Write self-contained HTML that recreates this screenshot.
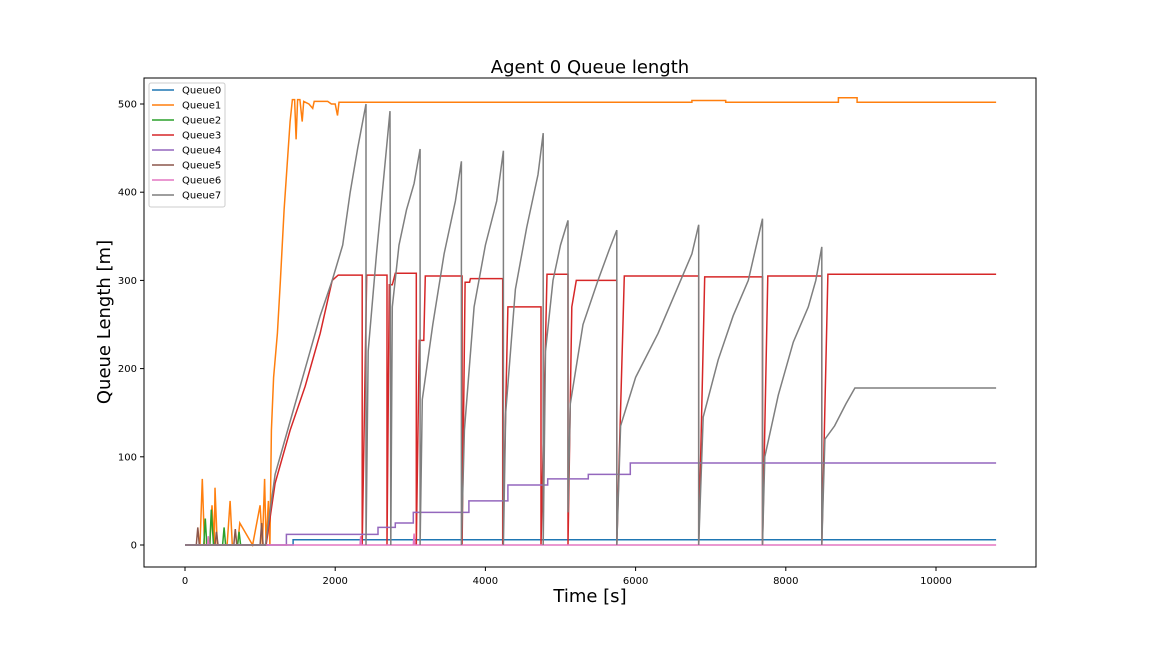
<!DOCTYPE html>
<html><head><meta charset="utf-8"><style>
body{margin:0;background:#fff;font-family:"Liberation Sans","DejaVu Sans",sans-serif}
svg text{font-family:"DejaVu Sans","Liberation Sans",sans-serif}
</style></head><body>
<svg id="c" width="1152" height="648" xmlns="http://www.w3.org/2000/svg"></svg>
<script>
const xTicks=[0,2000,4000,6000,8000,10000];
const yTicks=[0,100,200,300,400,500];
const seriesNames=["Queue0","Queue1","Queue2","Queue3","Queue4","Queue5","Queue6","Queue7"];
const q0T=[0,1440,1440,10800];
const q0V=[0,0,6,6];
const q1T=[0,200,230,260,330,360,390,400,430,560,600,630,700,730,900,1000,1030,1060,1080,1110,1130,1150,1180,1230,1270,1320,1360,1400,1430,1460,1480,1500,1530,1560,1580,1650,1700,1720,1900,1950,2000,2030,2050,6750,6750,7200,7200,8700,8700,8950,8950,10800];
const q1V=[0,0,75,0,0,45,0,65,0,0,50,0,0,25,0,45,0,75,0,50,0,130,190,240,300,380,430,480,505,505,460,505,505,480,503,500,495,503,503,500,500,487,502,502,504,504,502,502,507,507,502,502];
const q2T=[0,250,270,290,330,350,380,500,520,540,700,720,740,1100];
const q2V=[0,0,30,0,0,40,0,0,20,0,0,15,0,0];
const q3T=[0,1080,1200,1400,1600,1800,1960,2040,2360,2360,2420,2690,2690,2720,2760,2800,3080,3080,3120,3180,3200,3690,3690,3730,3790,3800,4230,4230,4300,4740,4740,4820,5100,5100,5150,5210,5750,5750,5850,6840,6840,6920,7690,7690,7760,8480,8480,8560,10800];
const q3V=[0,0,70,130,180,240,300,306,306,0,306,306,0,295,295,308,308,0,232,232,305,305,0,298,298,302,302,0,270,270,0,307,307,0,270,300,300,0,305,305,0,304,304,0,305,305,0,307,307];
const q4T=[0,1350,1350,2570,2570,2800,2800,3040,3040,3780,3780,4300,4300,4830,4830,5370,5370,5930,5930,10800];
const q4V=[0,0,12,12,20,20,25,25,37,37,50,50,68,68,75,75,80,80,93,93];
const q5T=[0,150,170,190,400,420,440,650,670,690,1000,1020,1040,1100];
const q5V=[0,0,20,0,0,15,0,0,18,0,0,25,0,0];
const q6T=[0,300,310,320,2330,2340,2350,3040,3050,3060,10800];
const q6V=[0,0,10,0,0,10,0,0,13,0,0];
const q7T=[0,1070,1200,1400,1600,1800,1960,2100,2200,2300,2410,2410,2440,2550,2650,2730,2740,2760,2850,2950,3050,3130,3130,3160,3300,3450,3600,3680,3680,3720,3850,4000,4150,4240,4240,4270,4400,4550,4700,4770,4770,4800,4900,5000,5100,5100,5130,5300,5500,5650,5750,5750,5800,6000,6300,6550,6750,6840,6840,6900,7100,7300,7500,7690,7690,7720,7900,8100,8300,8400,8480,8480,8520,8650,8800,8920,10800];
const q7V=[0,0,80,140,200,260,300,340,400,450,500,0,220,330,420,492,0,270,340,380,410,449,0,165,250,330,390,435,0,130,270,340,390,447,0,150,290,360,420,467,0,220,300,340,368,37,160,250,300,335,357,0,135,190,240,290,330,363,0,145,210,260,300,370,0,100,170,230,270,300,338,0,120,135,160,178,178];
const tsT=[q0T,q1T,q2T,q3T,q4T,q5T,q6T,q7T];
const tsV=[q0V,q1V,q2V,q3V,q4V,q5V,q6V,q7V];
const colors=["#1f77b4","#ff7f0e","#2ca02c","#d62728","#9467bd","#8c564b","#e377c2","#7f7f7f"];
const NS="http://www.w3.org/2000/svg",svg=document.getElementById('c');
const L=144,R=1036,T=78,B=567;
const X=t=>185+t*0.0751, Y=v=>545-v*0.882;
function mk(tag,a,p){const e=document.createElementNS(NS,tag);for(const k in a)e.setAttribute(k,a[k]);(p||svg).appendChild(e);return e;}
const title=mk('text',{x:590,y:73,'text-anchor':'middle','font-size':18,fill:'#000'});title.textContent="Agent 0 Queue length";

const plot=mk('g',{});

const order=[0,1,2,3,4,5,6,7];
order.forEach(i=>{
 const pts=tsT[i].map((t,j)=>X(t).toFixed(1)+','+Y(tsV[i][j]).toFixed(1)).join(' ');
 const pl=mk('polyline',{points:pts,fill:'none',stroke:colors[i],'stroke-width':1.5,'stroke-linejoin':'miter'},plot);
 
 
});
const frame=mk('rect',{x:L,y:T,width:R-L,height:B-T,fill:'none',stroke:'#000','stroke-width':1});

xTicks.forEach(t=>{mk('line',{x1:X(t),x2:X(t),y1:B,y2:B+4,stroke:'#000'});
 const tx=mk('text',{x:X(t),y:B+17,'text-anchor':'middle','font-size':10});tx.textContent=t;
 });
yTicks.forEach(v=>{mk('line',{x1:L-4,x2:L,y1:Y(v),y2:Y(v),stroke:'#000'});
 const tx=mk('text',{x:L-7,y:Y(v)+3.5,'text-anchor':'end','font-size':10});tx.textContent=v;
 });
const xl=mk('text',{x:590,y:602,'text-anchor':'middle','font-size':18});xl.textContent="Time [s]";

const yl=mk('text',{x:110,y:322,'text-anchor':'middle','font-size':18,transform:'rotate(-90 110 322)'});yl.textContent="Queue Length [m]";

const lg=mk('g',{});

mk('rect',{x:149,y:83,width:76,height:124,rx:2,fill:'#fff','fill-opacity':0.8,stroke:'#ccc'},lg);
seriesNames.forEach((n,i)=>{const y=90+i*15;
 mk('line',{x1:152,x2:174,y1:y,y2:y,stroke:colors[i],'stroke-width':1.5},lg);
 const tx=mk('text',{x:182,y:y+3.5,'font-size':10},lg);tx.textContent=n;
 });
</script>
</body></html>
